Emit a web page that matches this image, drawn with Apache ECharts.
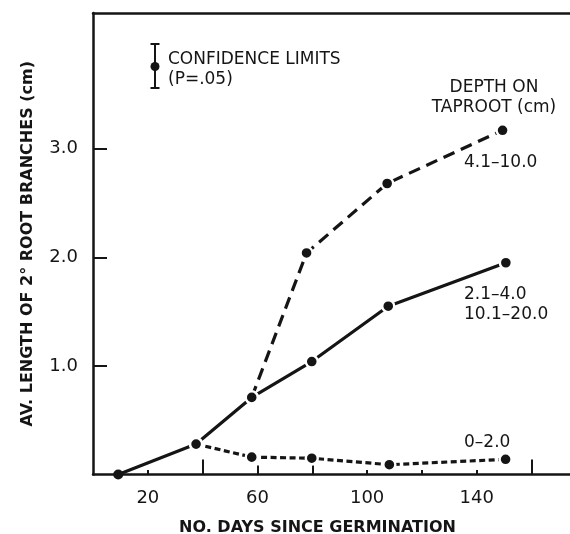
<!DOCTYPE html>
<html>
<head>
<meta charset="utf-8">
<script src="https://cdn.jsdelivr.net/npm/echarts@6/dist/echarts.min.js"></script>
</head>
<body style="margin:0;background:#fff">
<div id="chart" style="width:570px;height:534px"></div>
<script>
// values: days since germination, av. length (cm)
var deepDays = [57.9, 77.9, 107.3, 149.4];
var deepLen  = [0.71, 2.04, 2.68, 3.17];              // 4.1-10.0
var midDays  = [9.2, 37.6, 57.9, 79.8, 107.7, 150.6];
var midLen   = [0, 0.28, 0.71, 1.04, 1.55, 1.95];     // 2.1-4.0 and 10.1-20.0
var topDays  = [37.6, 57.9, 79.8, 108.1, 150.5];
var topLen   = [0.28, 0.16, 0.15, 0.09, 0.14];        // 0-2.0

var xLabels     = [20, 60, 100, 140];
var xShortTicks = [20, 100, 120, 140];
var xMidTicks   = [60, 80];
var xLongTicks  = [40, 160];
var yTicks      = [1, 2, 3];

var ink = '#151515';
var font = 'DejaVu Sans';

function pairs(xs, ys) {
  return xs.map(function (x, i) {
    var p = { value: [x, ys[i]] };
    // point sitting on the axis: no white ring
    if (ys[i] === 0) { p.symbolSize = 10; p.itemStyle = { borderWidth: 0 }; }
    return p;
  });
}

function lineSeries(name, data, dash) {
  return {
    name: name, type: 'line', data: data,
    symbol: 'circle', symbolSize: 12,
    lineStyle: { color: ink, width: 3.2, type: dash },
    itemStyle: { color: ink, borderColor: '#fff', borderWidth: 2.4 },
    emphasis: { disabled: true },
    z: 3
  };
}

function tickAxis(values, len) {
  return {
    type: 'value', min: 0, max: 174, position: 'bottom',
    axisLine: { show: false, onZero: false },
    axisTick: { show: true, inside: true, length: len, customValues: values, lineStyle: { color: ink, width: 2 } },
    axisLabel: { show: false },
    splitLine: { show: false }
  };
}

function label(text, x, y, align) {
  return {
    type: 'text', x: x, y: y, silent: true,
    style: { text: text, fill: ink, font: '17px "' + font + '"', align: align || 'left', verticalAlign: 'middle' }
  };
}

var chart = echarts.init(document.getElementById('chart'));

chart.setOption({
  animation: false,
  backgroundColor: '#fff',
  grid: { left: 93, right: 0, top: 13, bottom: 59.5, containLabel: false, outerBoundsMode: 'none' },
  xAxis: [
    {
      type: 'value', min: 0, max: 174, position: 'bottom',
      axisLine: { show: true, onZero: false, lineStyle: { color: ink, width: 2.5 } },
      axisTick: { show: true, inside: true, length: 4.5, customValues: xShortTicks, lineStyle: { color: ink, width: 2 } },
      axisLabel: { customValues: xLabels, margin: 15, fontSize: 18, color: ink, fontFamily: font },
      splitLine: { show: false },
      name: 'NO. DAYS SINCE GERMINATION',
      nameLocation: 'middle', nameGap: 45,
      nameTextStyle: { fontSize: 16, fontWeight: 'bold', color: ink, fontFamily: font, padding: [0, 28, 0, 0] }
    },
    tickAxis(xMidTicks, 9),
    tickAxis(xLongTicks, 15),
    {
      type: 'value', min: 0, max: 174, position: 'top',
      axisLine: { show: true, onZero: false, lineStyle: { color: ink, width: 2.5 } },
      axisTick: { show: false }, axisLabel: { show: false }, splitLine: { show: false }
    }
  ],
  yAxis: {
    type: 'value', min: 0, max: 4.25, interval: 1,
    axisLine: { show: true, onZero: false, lineStyle: { color: ink, width: 2.5 } },
    axisTick: { show: true, inside: true, length: 14, customValues: yTicks, lineStyle: { color: ink, width: 2 } },
    axisLabel: {
      customValues: yTicks, margin: 15, fontSize: 18, color: ink, fontFamily: font,
      formatter: function (v) { return v.toFixed(1); }
    },
    splitLine: { show: false },
    name: 'AV. LENGTH OF 2° ROOT BRANCHES (cm)',
    nameLocation: 'middle', nameGap: 57,
    nameTextStyle: { fontSize: 16, fontWeight: 'bold', color: ink, fontFamily: font }
  },
  series: [
    lineSeries('0-2.0', pairs(topDays, topLen), [6, 3.5]),
    lineSeries('2.1-4.0, 10.1-20.0', pairs(midDays, midLen), 'solid'),
    lineSeries('4.1-10.0', pairs(deepDays, deepLen), [12, 7])
  ],
  graphic: [
    // confidence limits key
    { type: 'line', silent: true, shape: { x1: 155, y1: 44, x2: 155, y2: 88 }, style: { stroke: ink, lineWidth: 2 } },
    { type: 'line', silent: true, shape: { x1: 150.5, y1: 44, x2: 159.5, y2: 44 }, style: { stroke: ink, lineWidth: 2 } },
    { type: 'line', silent: true, shape: { x1: 150.5, y1: 88, x2: 159.5, y2: 88 }, style: { stroke: ink, lineWidth: 2 } },
    { type: 'circle', silent: true, shape: { cx: 155, cy: 66.5, r: 4.5 }, style: { fill: ink } },
    label('CONFIDENCE LIMITS', 168, 59.5),
    label('(P=.05)', 168, 79.5),
    label('DEPTH ON', 494, 88, 'center'),
    label('TAPROOT (cm)', 494, 107.5, 'center'),
    label('4.1–10.0', 464, 162.5),
    label('2.1–4.0', 464, 295),
    label('10.1–20.0', 464, 315),
    label('0–2.0', 464, 442.5)
  ]
});
</script>
</body>
</html>
